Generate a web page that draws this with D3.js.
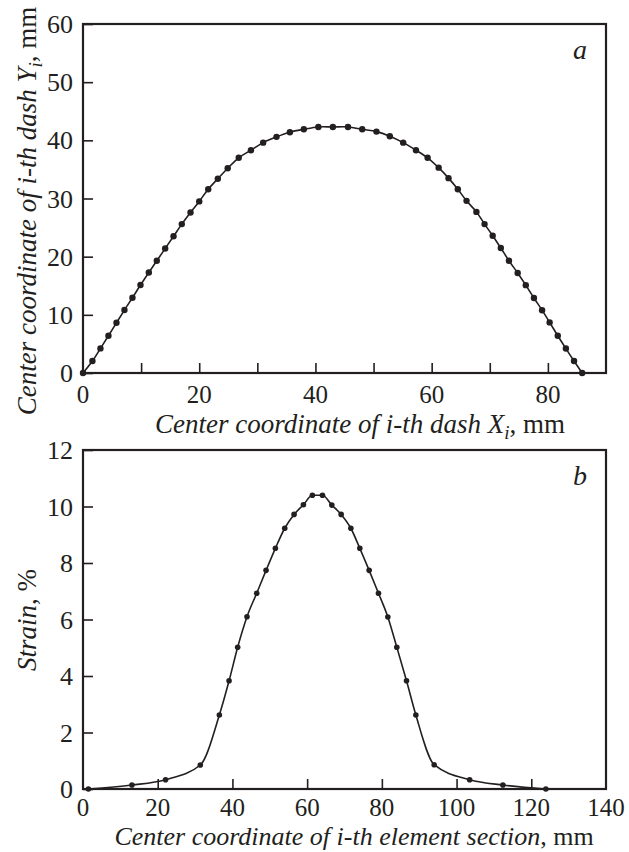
<!DOCTYPE html>
<html>
<head>
<meta charset="utf-8">
<script src="https://cdn.jsdelivr.net/npm/d3@7"></script>
<style>
  body { margin: 0; background: #fff; }
  svg text { font-family: "Liberation Serif", "Times New Roman", serif; fill: #231f20; }
</style>
</head>
<body>
<svg id="chart" width="629" height="852"></svg>
<script>
// panel a: dash centres (mm)
const dashX = [0, 1.62, 3.0, 4.38, 5.76, 7.13, 8.51, 9.89, 11.33, 12.7, 14.14, 15.58, 17.0, 18.5, 20.0,
    21.55, 23.2, 24.9, 26.8, 28.9, 31.0, 33.3, 35.6, 38.0, 40.5, 43.0, 45.6, 48.05, 50.5, 52.8, 55.1,
    57.3, 59.3, 61.2, 62.9, 64.5, 66.0, 67.7, 69.1, 70.5, 71.9, 73.3, 74.8, 76.2, 77.6, 79.0, 80.3,
    81.7, 83.1, 84.5, 85.9];
const dashY = [0, 2.06, 4.23, 6.41, 8.64, 10.82, 12.94, 15.12, 17.29, 19.3, 21.4, 23.5, 25.6, 27.6, 29.5,
    31.6, 33.4, 35.2, 37.0, 38.3, 39.6, 40.6, 41.4, 41.9, 42.3, 42.3, 42.3, 41.9, 41.5, 40.7, 39.6,
    38.3, 37.0, 35.3, 33.5, 31.6, 29.6, 27.7, 25.6, 23.6, 21.5, 19.3, 17.2, 15.1, 12.9, 10.8, 8.7,
    6.4, 4.2, 2.06, 0];

// panel b: strain per element section
const sectionX = [1.45, 13.1, 22.1, 31.4, 36.5, 39.1, 41.4, 43.9, 46.5, 49.0, 51.5, 54.0, 56.5, 59.0,
    61.4, 64.1, 66.6, 69.1, 71.7, 74.1, 76.6, 79.1, 81.6, 84.0, 86.6, 89.1, 94.0, 103.5, 112.4, 123.9];
const strain = [0, 0.14, 0.33, 0.85, 2.62, 3.83, 5.02, 6.10, 6.93, 7.74, 8.52, 9.23, 9.72, 10.06,
    10.40, 10.40, 10.05, 9.72, 9.23, 8.52, 7.74, 6.93, 6.09, 5.02, 3.83, 2.62, 0.86, 0.33, 0.14, 0];

const xTicksA = [0, 20, 40, 60, 80];
const yTicksA = [0, 10, 20, 30, 40, 50, 60];
const xTicksB = [0, 20, 40, 60, 80, 100, 120, 140];
const yTicksB = [0, 2, 4, 6, 8, 10, 12];

const svg = d3.select("#chart");
const ink = "#231f20";

function panel(cfg) {
    const x = d3.scaleLinear().domain(cfg.xDomain).range([83, 606]);
    const y = d3.scaleLinear().domain(cfg.yDomain).range([cfg.bottom, cfg.top]);
    const g = svg.append("g");

    // inward ticks, labels on left/bottom
    g.append("g")
        .attr("transform", `translate(0,${cfg.bottom})`)
        .call(d3.axisTop(x).tickValues(cfg.xMinor).tickSize(10).tickFormat(""))
        .call((a) => a.select(".domain").remove());
    g.append("g")
        .attr("transform", "translate(83,0)")
        .call(d3.axisRight(y).tickValues(cfg.yTicks).tickSize(10).tickFormat(""))
        .call((a) => a.select(".domain").remove());
    g.selectAll(".tick line").attr("stroke", ink).attr("stroke-width", 1.6);

    g.selectAll(".xl")
        .data(cfg.xTicks)
        .enter()
        .append("text")
        .attr("x", (d) => x(d))
        .attr("y", cfg.bottom + cfg.xlab)
        .attr("text-anchor", "middle")
        .attr("font-size", 25)
        .text((d) => d);
    g.selectAll(".yl")
        .data(cfg.yTicks)
        .enter()
        .append("text")
        .attr("x", 73)
        .attr("y", (d) => y(d) + 9)
        .attr("text-anchor", "end")
        .attr("font-size", 26)
        .text((d) => d);

    g.append("rect")
        .attr("x", 83)
        .attr("y", cfg.top)
        .attr("width", 523)
        .attr("height", cfg.bottom - cfg.top)
        .attr("fill", "none")
        .attr("stroke", ink)
        .attr("stroke-width", 2.2);

    const line = d3.line()
        .x((d) => x(d[0]))
        .y((d) => y(d[1]))
        .curve(cfg.curve);
    const pts = cfg.xs.map((v, i) => [v, cfg.ys[i]]);
    g.append("path")
        .attr("d", line(pts))
        .attr("fill", "none")
        .attr("stroke", ink)
        .attr("stroke-width", 1.6);
    g.selectAll("circle")
        .data(pts)
        .enter()
        .append("circle")
        .attr("cx", (d) => x(d[0]))
        .attr("cy", (d) => y(d[1]))
        .attr("r", cfg.r)
        .attr("fill", ink);

    g.append("text")
        .attr("x", 580)
        .attr("y", cfg.top + 35)
        .attr("text-anchor", "middle")
        .attr("font-size", 28)
        .attr("font-style", "italic")
        .text(cfg.letter);
    return g;
}

panel({
    xDomain: [0, 90], yDomain: [0, 60], top: 24, bottom: 373, xlab: 30,
    xTicks: xTicksA, xMinor: d3.range(10, 90, 10), yTicks: yTicksA,
    xs: dashX, ys: dashY, curve: d3.curveCatmullRom, r: 3.2, letter: "a"
});
panel({
    xDomain: [0, 140], yDomain: [0, 12], top: 450, bottom: 789, xlab: 27,
    xTicks: xTicksB, xMinor: d3.range(20, 140, 20), yTicks: yTicksB,
    xs: sectionX, ys: strain, curve: d3.curveMonotoneX, r: 2.8, letter: "b"
});

// axis titles
const tA = svg.append("text").attr("x", 360).attr("y", 433).attr("text-anchor", "middle").attr("font-size", 27);
tA.append("tspan").attr("font-style", "italic").text("Center coordinate of i-th dash X");
tA.append("tspan").attr("font-style", "italic").attr("font-size", 19).attr("dy", 6).text("i");
tA.append("tspan").attr("dy", -6).text(", mm");

const yA = svg.append("text").attr("transform", "translate(36,211) rotate(-90)").attr("text-anchor", "middle").attr("font-size", 27);
yA.append("tspan").attr("font-style", "italic").text("Center coordinate of i-th dash Y");
yA.append("tspan").attr("font-style", "italic").attr("font-size", 19).attr("dy", 6).text("i");
yA.append("tspan").attr("dy", -6).text(", mm");

const tB = svg.append("text").attr("x", 354).attr("y", 845).attr("text-anchor", "middle").attr("font-size", 26);
tB.append("tspan").attr("font-style", "italic").text("Center coordinate of i-th element section");
tB.append("tspan").text(", mm");

const yB = svg.append("text").attr("transform", "translate(36,620) rotate(-90)").attr("text-anchor", "middle").attr("font-size", 27);
yB.append("tspan").attr("font-style", "italic").text("Strain");
yB.append("tspan").text(", %");
</script>
</body>
</html>
